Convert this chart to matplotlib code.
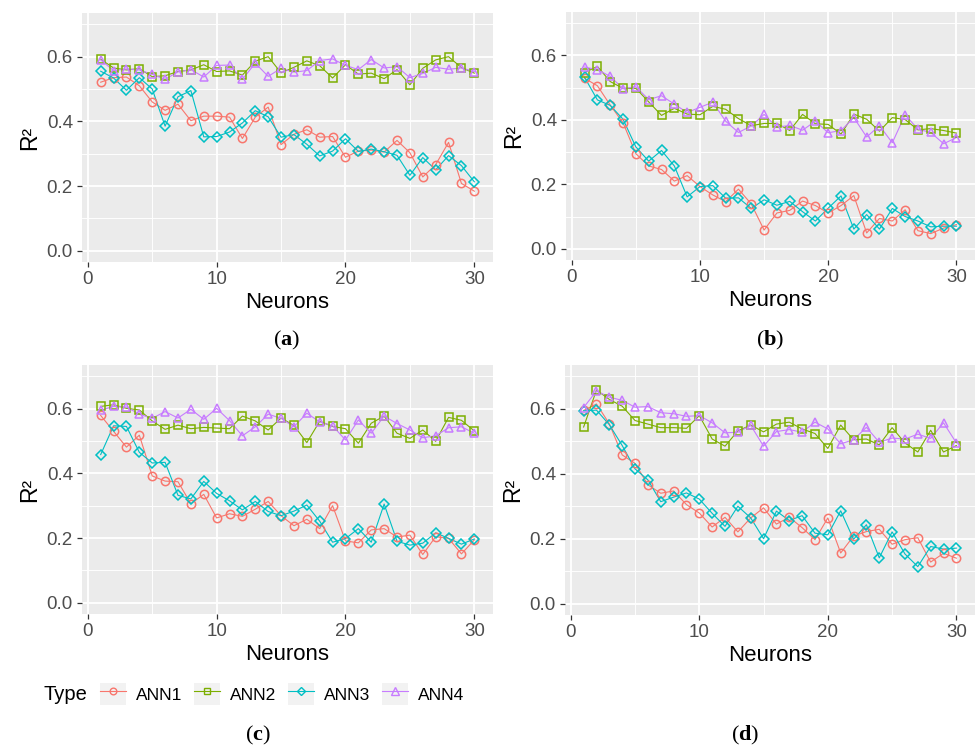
import matplotlib
matplotlib.use("Agg")
import matplotlib.pyplot as plt
from matplotlib.lines import Line2D
from matplotlib.patches import Patch
from matplotlib.ticker import MultipleLocator

plt.rcParams['font.family'] = ['Liberation Sans', 'DejaVu Sans']
plt.rcParams['mathtext.fontset'] = 'custom'
plt.rcParams['mathtext.bf'] = 'Liberation Serif:bold'

neurons = list(range(1, 31))
types = ["ANN1", "ANN2", "ANN3", "ANN4"]

# panel (a)
a_ann1 = [0.521, 0.535, 0.537, 0.510, 0.460, 0.434, 0.453, 0.402, 0.416, 0.416,
          0.413, 0.347, 0.413, 0.444, 0.328, 0.360, 0.374, 0.351, 0.353, 0.289,
          0.308, 0.311, 0.305, 0.341, 0.303, 0.228, 0.266, 0.335, 0.208, 0.184]
a_ann2 = [0.592, 0.565, 0.559, 0.563, 0.538, 0.541, 0.554, 0.559, 0.575, 0.554,
          0.556, 0.543, 0.586, 0.600, 0.550, 0.567, 0.587, 0.572, 0.534, 0.575,
          0.546, 0.549, 0.532, 0.560, 0.513, 0.564, 0.590, 0.600, 0.566, 0.549]
a_ann3 = [0.555, 0.534, 0.496, 0.535, 0.500, 0.385, 0.476, 0.495, 0.352, 0.353,
          0.367, 0.395, 0.433, 0.414, 0.351, 0.359, 0.329, 0.293, 0.308, 0.346,
          0.307, 0.314, 0.306, 0.295, 0.233, 0.288, 0.250, 0.294, 0.263, 0.213]
a_ann4 = [0.590, 0.557, 0.562, 0.559, 0.545, 0.530, 0.553, 0.560, 0.537, 0.573,
          0.574, 0.530, 0.580, 0.539, 0.564, 0.552, 0.557, 0.588, 0.593, 0.573,
          0.560, 0.591, 0.565, 0.569, 0.535, 0.548, 0.567, 0.561, 0.565, 0.554]

# panel (b)
b_ann1 = [0.529, 0.506, 0.446, 0.391, 0.295, 0.257, 0.246, 0.210, 0.227, 0.193,
          0.167, 0.146, 0.185, 0.139, 0.058, 0.111, 0.119, 0.148, 0.134, 0.111,
          0.134, 0.165, 0.049, 0.094, 0.086, 0.121, 0.056, 0.047, 0.064, 0.075]
b_ann2 = [0.547, 0.566, 0.519, 0.498, 0.498, 0.456, 0.414, 0.436, 0.418, 0.416,
          0.442, 0.433, 0.404, 0.382, 0.389, 0.389, 0.367, 0.417, 0.388, 0.386,
          0.356, 0.418, 0.402, 0.365, 0.407, 0.401, 0.369, 0.373, 0.367, 0.359]
b_ann3 = [0.532, 0.462, 0.445, 0.402, 0.316, 0.272, 0.305, 0.257, 0.161, 0.193,
          0.196, 0.157, 0.158, 0.125, 0.152, 0.135, 0.147, 0.115, 0.086, 0.126,
          0.164, 0.061, 0.106, 0.061, 0.125, 0.100, 0.086, 0.068, 0.070, 0.070]
b_ann4 = [0.564, 0.556, 0.535, 0.497, 0.503, 0.463, 0.475, 0.449, 0.423, 0.439,
          0.455, 0.396, 0.361, 0.381, 0.417, 0.377, 0.383, 0.368, 0.396, 0.360,
          0.367, 0.407, 0.347, 0.382, 0.329, 0.416, 0.371, 0.361, 0.326, 0.345]

# panel (c)
c_ann1 = [0.579, 0.530, 0.481, 0.518, 0.392, 0.376, 0.374, 0.306, 0.335, 0.262,
          0.275, 0.267, 0.289, 0.313, 0.269, 0.238, 0.258, 0.229, 0.300, 0.191,
          0.185, 0.225, 0.229, 0.203, 0.209, 0.149, 0.204, 0.199, 0.151, 0.194]
c_ann2 = [0.607, 0.612, 0.601, 0.596, 0.562, 0.536, 0.549, 0.538, 0.542, 0.540,
          0.538, 0.577, 0.562, 0.534, 0.571, 0.548, 0.495, 0.561, 0.545, 0.538,
          0.493, 0.555, 0.577, 0.524, 0.508, 0.534, 0.499, 0.573, 0.564, 0.531]
c_ann3 = [0.458, 0.547, 0.545, 0.465, 0.432, 0.434, 0.332, 0.321, 0.375, 0.338,
          0.315, 0.287, 0.313, 0.282, 0.269, 0.283, 0.302, 0.252, 0.187, 0.198,
          0.229, 0.187, 0.305, 0.190, 0.178, 0.184, 0.216, 0.199, 0.181, 0.197]
c_ann4 = [0.595, 0.607, 0.605, 0.583, 0.570, 0.591, 0.571, 0.598, 0.567, 0.601,
          0.563, 0.516, 0.544, 0.583, 0.570, 0.544, 0.586, 0.559, 0.547, 0.503,
          0.565, 0.524, 0.577, 0.554, 0.534, 0.510, 0.516, 0.541, 0.544, 0.524]

# panel (d)
d_ann1 = [0.595, 0.615, 0.554, 0.458, 0.432, 0.366, 0.340, 0.347, 0.305, 0.279,
          0.236, 0.266, 0.221, 0.264, 0.295, 0.245, 0.266, 0.234, 0.197, 0.264,
          0.156, 0.208, 0.222, 0.229, 0.183, 0.197, 0.203, 0.128, 0.155, 0.140]
d_ann2 = [0.544, 0.658, 0.629, 0.608, 0.564, 0.553, 0.542, 0.542, 0.540, 0.579,
          0.507, 0.485, 0.532, 0.550, 0.529, 0.553, 0.559, 0.538, 0.524, 0.478,
          0.550, 0.505, 0.507, 0.489, 0.542, 0.495, 0.467, 0.534, 0.467, 0.487]
d_ann3 = [0.594, 0.596, 0.551, 0.487, 0.415, 0.381, 0.314, 0.328, 0.341, 0.322,
          0.278, 0.238, 0.300, 0.264, 0.200, 0.285, 0.256, 0.271, 0.217, 0.212,
          0.286, 0.198, 0.243, 0.141, 0.221, 0.153, 0.114, 0.176, 0.168, 0.171]
d_ann4 = [0.604, 0.655, 0.636, 0.626, 0.605, 0.607, 0.588, 0.585, 0.577, 0.579,
          0.557, 0.526, 0.528, 0.549, 0.485, 0.530, 0.536, 0.528, 0.559, 0.538,
          0.492, 0.505, 0.543, 0.497, 0.510, 0.507, 0.522, 0.509, 0.557, 0.495]

panels = {
    "a": [a_ann1, a_ann2, a_ann3, a_ann4],
    "b": [b_ann1, b_ann2, b_ann3, b_ann4],
    "c": [c_ann1, c_ann2, c_ann3, c_ann4],
    "d": [d_ann1, d_ann2, d_ann3, d_ann4],
}

colors = ["#F8766D", "#7CAE00", "#00BFC4", "#C77CFF"]
markers = ["o", "s", "D", "^"]
msizes = [6.0, 5.2, 5.2, 6.4]

W, H = 976, 749
fig = plt.figure(figsize=(W / 100, H / 100), dpi=100)

# axes boxes in pixels: left, top, right, bottom
boxes = {
    "a": (82, 13, 493, 262),
    "b": (566, 12, 975, 260),
    "c": (82, 365, 493, 614),
    "d": (565, 365, 975, 615),
}

for key, series in panels.items():
    l, t, r, b = boxes[key]
    ax = fig.add_axes([l / W, 1 - b / H, (r - l) / W, (b - t) / H])
    ax.set_facecolor("#EBEBEB")
    for s in ax.spines.values():
        s.set_visible(False)
    ax.set_xlim(-0.45, 31.45)
    ax.set_ylim(-0.035, 0.735)
    ax.xaxis.set_major_locator(MultipleLocator(10))
    ax.xaxis.set_minor_locator(MultipleLocator(5))
    ax.yaxis.set_major_locator(MultipleLocator(0.2))
    ax.yaxis.set_minor_locator(MultipleLocator(0.1))
    ax.set_yticks([0.0, 0.2, 0.4, 0.6])
    ax.set_yticklabels(["0.0", "0.2", "0.4", "0.6"])
    ax.grid(which="major", color="white", lw=1.3)
    ax.grid(which="minor", color="white", lw=0.65)
    ax.set_axisbelow(True)
    ax.tick_params(which="major", length=3.5, width=0.9, color="#333333",
                   labelsize=13.5, labelcolor="#4D4D4D", pad=3)
    ax.tick_params(which="minor", length=0)
    for vals, c in zip(series, colors):
        ax.plot(neurons, vals, color=c, lw=0.8, zorder=2)
    for vals, c, m, ms in zip(series, colors, markers, msizes):
        ax.plot(neurons, vals, ls="none", marker=m, ms=ms, mfc="none",
                mec=c, mew=1.1, zorder=3)
    ax.set_xlabel("Neurons", fontsize=16, labelpad=3)
    ax.set_ylabel("R²", fontsize=16.5, labelpad=4)

# panel captions
captions = {"a": (287, 340), "b": (770, 340), "c": (258, 735), "d": (745, 735)}
for key, (cx, cy) in captions.items():
    fig.text(cx / W, 1 - cy / H, "($\\mathbf{%s}$)" % key, ha="center",
             va="center", fontsize=16, family="Liberation Serif")

# legend
handles = []
for c, m, ms in zip(colors, markers, msizes):
    bg = Patch(facecolor="#F2F2F2", edgecolor="none")
    ln = Line2D([0], [0], color=c, lw=0.8, marker=m, ms=ms * 0.8, mfc="none",
                mec=c, mew=1.0)
    handles.append((bg, ln))
fig.text(43 / W, 1 - 694 / H, "Type", ha="left", va="center", fontsize=14.5)
fig.legend(handles, types, loc="center left",
           bbox_to_anchor=(91 / W, 1 - 694 / H), ncol=4, frameon=False,
           fontsize=12.5, handlelength=1.5, handleheight=1.6,
           handletextpad=0.6, columnspacing=0.65, borderpad=0)

fig.savefig("out.png", dpi=100)
